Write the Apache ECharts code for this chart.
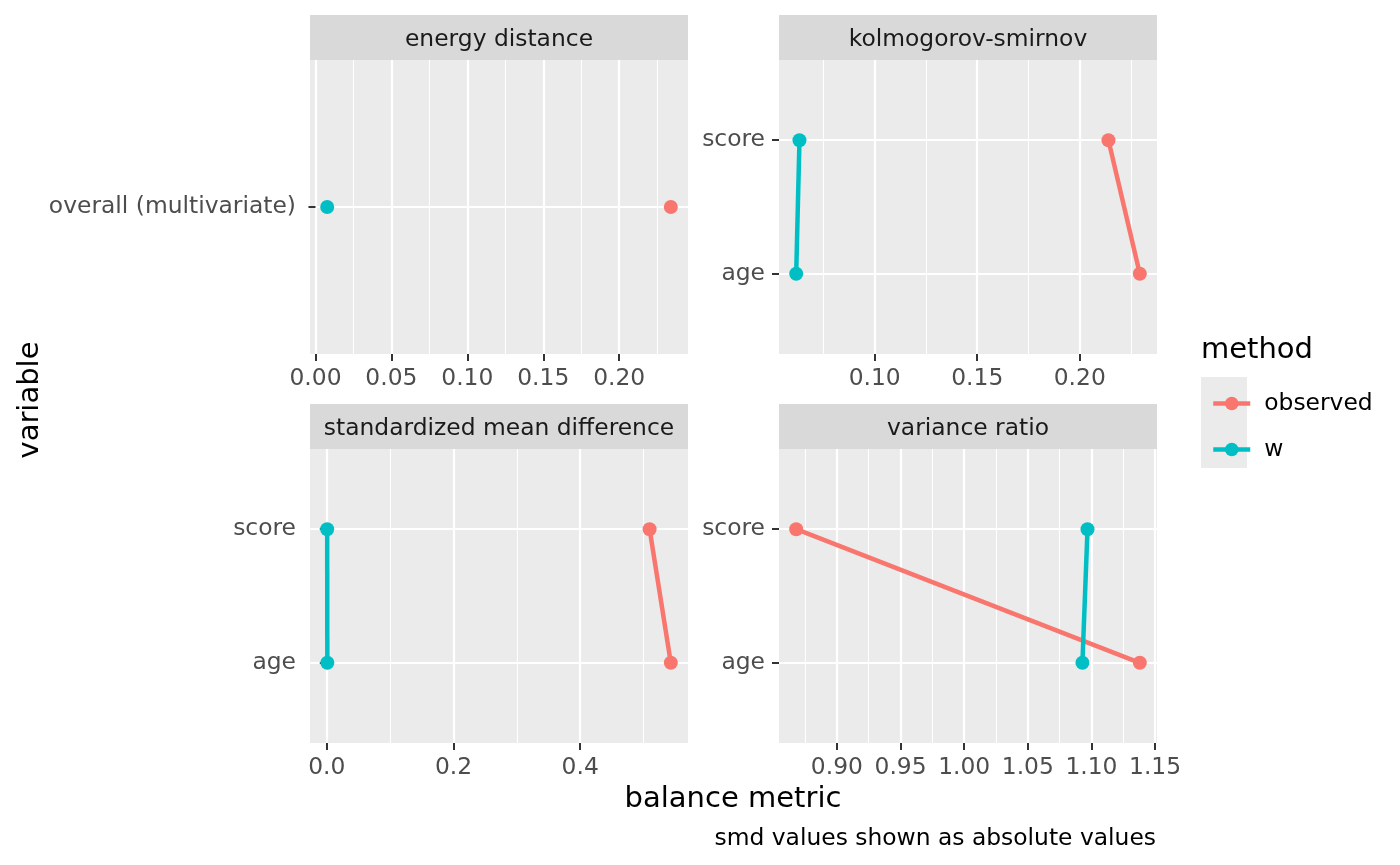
<!DOCTYPE html>
<html>
<head>
<meta charset="utf-8">
<script src="https://cdn.jsdelivr.net/npm/echarts@6.0.0/dist/echarts.min.js"></script>
<style>
  html, body { margin: 0; padding: 0; background: #ffffff; }
  #chart { width: 1400px; height: 865px; }
</style>
</head>
<body>
<div id="chart"></div>
<script>
const methods = ['observed', 'w'];
const panelTitles = ['energy distance', 'kolmogorov-smirnov', 'standardized mean difference', 'variance ratio'];
const energyVars = ['overall (multivariate)'];
const covariates = ['age', 'score'];

// values per variable, same order as the variable lists
const energyObserved = [0.234];
const energyW = [0.0077];
const ksObserved = [0.2293, 0.2140];
const ksW = [0.0617, 0.0633];
const smdObserved = [0.5430, 0.5095];
const smdW = [0.0008, 0.0006];
const vrObserved = [1.1380, 0.8680];
const vrW = [1.0929, 1.0969];

// tick labels and minor grid breaks
const energyTicks = [0, 0.05, 0.10, 0.15, 0.20];
const energyMinor = [0.025, 0.075, 0.125, 0.175, 0.225];
const ksTicks = [0.10, 0.15, 0.20];
const ksMinor = [0.075, 0.125, 0.175, 0.225];
const smdTicks = [0, 0.2, 0.4];
const smdMinor = [0.1, 0.3, 0.5];
const vrTicks = [0.90, 0.95, 1.00, 1.05, 1.10, 1.15];
const vrMinor = [0.875, 0.925, 0.975, 1.025, 1.075, 1.125];

const colors = { observed: '#F8766D', w: '#00BFC4' };
const FONT = 'DejaVu Sans';
const SMALL = 23.4, LARGE = 29;

const panels = [
  { vars: energyVars, observed: energyObserved, w: energyW, ticks: energyTicks, minor: energyMinor, digits: 2 },
  { vars: covariates, observed: ksObserved, w: ksW, ticks: ksTicks, minor: ksMinor, digits: 2 },
  { vars: covariates, observed: smdObserved, w: smdW, ticks: smdTicks, minor: smdMinor, digits: 1 },
  { vars: covariates, observed: vrObserved, w: vrW, ticks: vrTicks, minor: vrMinor, digits: 2 },
];

const boxes = [
  { left: 310, top: 60 },
  { left: 779, top: 60 },
  { left: 310, top: 449 },
  { left: 779, top: 449 },
];
const PW = 378, PH = 294, STRIP = 45;

const grids = [], xMain = [], xMinor = [], yAxes = [], series = [], graphics = [];

panels.forEach((p, i) => {
  const all = p.observed.concat(p.w);
  const lo = Math.min(...all), hi = Math.max(...all);
  const pad = (hi - lo) * 0.05;
  const xmin = lo - pad, xmax = hi + pad;

  grids.push({
    left: boxes[i].left, top: boxes[i].top, width: PW, height: PH,
    show: true, backgroundColor: '#EBEBEB', borderWidth: 0,
  });

  xMain.push({
    type: 'value', gridIndex: i, min: xmin, max: xmax, position: 'bottom',
    axisLine: { show: false },
    axisTick: { show: true, length: 7, customValues: p.ticks, lineStyle: { color: '#333333', width: 2 } },
    axisLabel: {
      customValues: p.ticks, margin: 13, fontSize: SMALL, color: '#4D4D4D', fontFamily: FONT,
      formatter: v => v.toFixed(p.digits),
    },
    splitLine: { show: true, lineStyle: { color: '#FFFFFF', width: 2.2 } },
  });

  xMinor.push({
    type: 'value', gridIndex: i, min: xmin, max: xmax, position: 'top',
    axisLine: { show: false },
    axisTick: { show: false, customValues: p.minor },
    axisLabel: { show: false, customValues: p.minor },
    splitLine: { show: true, lineStyle: { color: '#FFFFFF', width: 1.1 } },
  });

  const cats = p.vars.map((v, k) => k + 1);
  yAxes.push({
    type: 'value', gridIndex: i, min: 0.4, max: p.vars.length + 0.6,
    axisLine: { show: false },
    axisTick: { show: true, length: 7, customValues: cats, lineStyle: { color: '#333333', width: 2 } },
    axisLabel: {
      customValues: cats, margin: 14, fontSize: SMALL, color: '#4D4D4D', fontFamily: FONT,
      padding: [4, 0, 0, 0],
      formatter: v => p.vars[Math.round(v) - 1],
    },
    splitLine: { show: true, lineStyle: { color: '#FFFFFF', width: 2.2 } },
  });

  methods.forEach(m => {
    series.push({
      name: m, type: 'line', xAxisIndex: i, yAxisIndex: i,
      data: p.vars.map((v, k) => [p[m][k], k + 1]),
      symbol: 'circle', symbolSize: 14, showSymbol: true,
      color: colors[m],
      lineStyle: { color: colors[m], width: 4.5 },
      itemStyle: { color: colors[m] },
      emphasis: { disabled: true },
      animation: false,
    });
  });

  // facet strip
  graphics.push({
    type: 'rect', shape: { x: boxes[i].left, y: boxes[i].top - STRIP, width: PW, height: STRIP },
    style: { fill: '#D9D9D9' }, silent: true,
  });
  graphics.push({
    type: 'text', x: boxes[i].left + PW / 2, y: boxes[i].top - STRIP / 2 + 2,
    style: { text: panelTitles[i], fontSize: SMALL, fontFamily: FONT, fill: '#1A1A1A', align: 'center', verticalAlign: 'middle' },
    silent: true,
  });
});

graphics.push(
  {
    type: 'text', x: 30, y: 400, rotation: Math.PI / 2,
    style: { text: 'variable', fontSize: LARGE, fontFamily: FONT, fill: '#000000', align: 'center', verticalAlign: 'middle' },
  },
  {
    type: 'text', x: 733, y: 799,
    style: { text: 'balance metric', fontSize: LARGE, fontFamily: FONT, fill: '#000000', align: 'center', verticalAlign: 'middle' },
  },
  {
    type: 'text', x: 1156, y: 839,
    style: { text: 'smd values shown as absolute values', fontSize: SMALL, fontFamily: FONT, fill: '#000000', align: 'right', verticalAlign: 'middle' },
  },
  {
    type: 'text', x: 1201, y: 350,
    style: { text: 'method', fontSize: LARGE, fontFamily: FONT, fill: '#000000', align: 'left', verticalAlign: 'middle' },
  },
  {
    type: 'rect', shape: { x: 1201, y: 377, width: 46, height: 91 },
    style: { fill: '#EBEBEB' }, silent: true,
  }
);

const chart = echarts.init(document.getElementById('chart'), null, { renderer: 'canvas' });
chart.setOption({
  animation: false,
  backgroundColor: '#FFFFFF',
  grid: grids,
  xAxis: xMain.concat(xMinor),
  yAxis: yAxes,
  series: series,
  legend: {
    data: methods, orient: 'vertical', left: 1206, top: 387,
    itemWidth: 37, itemHeight: 17, itemGap: 23, selectedMode: false,
    lineStyle: { width: 4.5 },
    textStyle: { fontSize: SMALL, fontFamily: FONT, color: '#000000', lineHeight: 23, padding: [0, 0, 0, 9] },
  },
  graphic: graphics,
});
</script>
</body>
</html>
